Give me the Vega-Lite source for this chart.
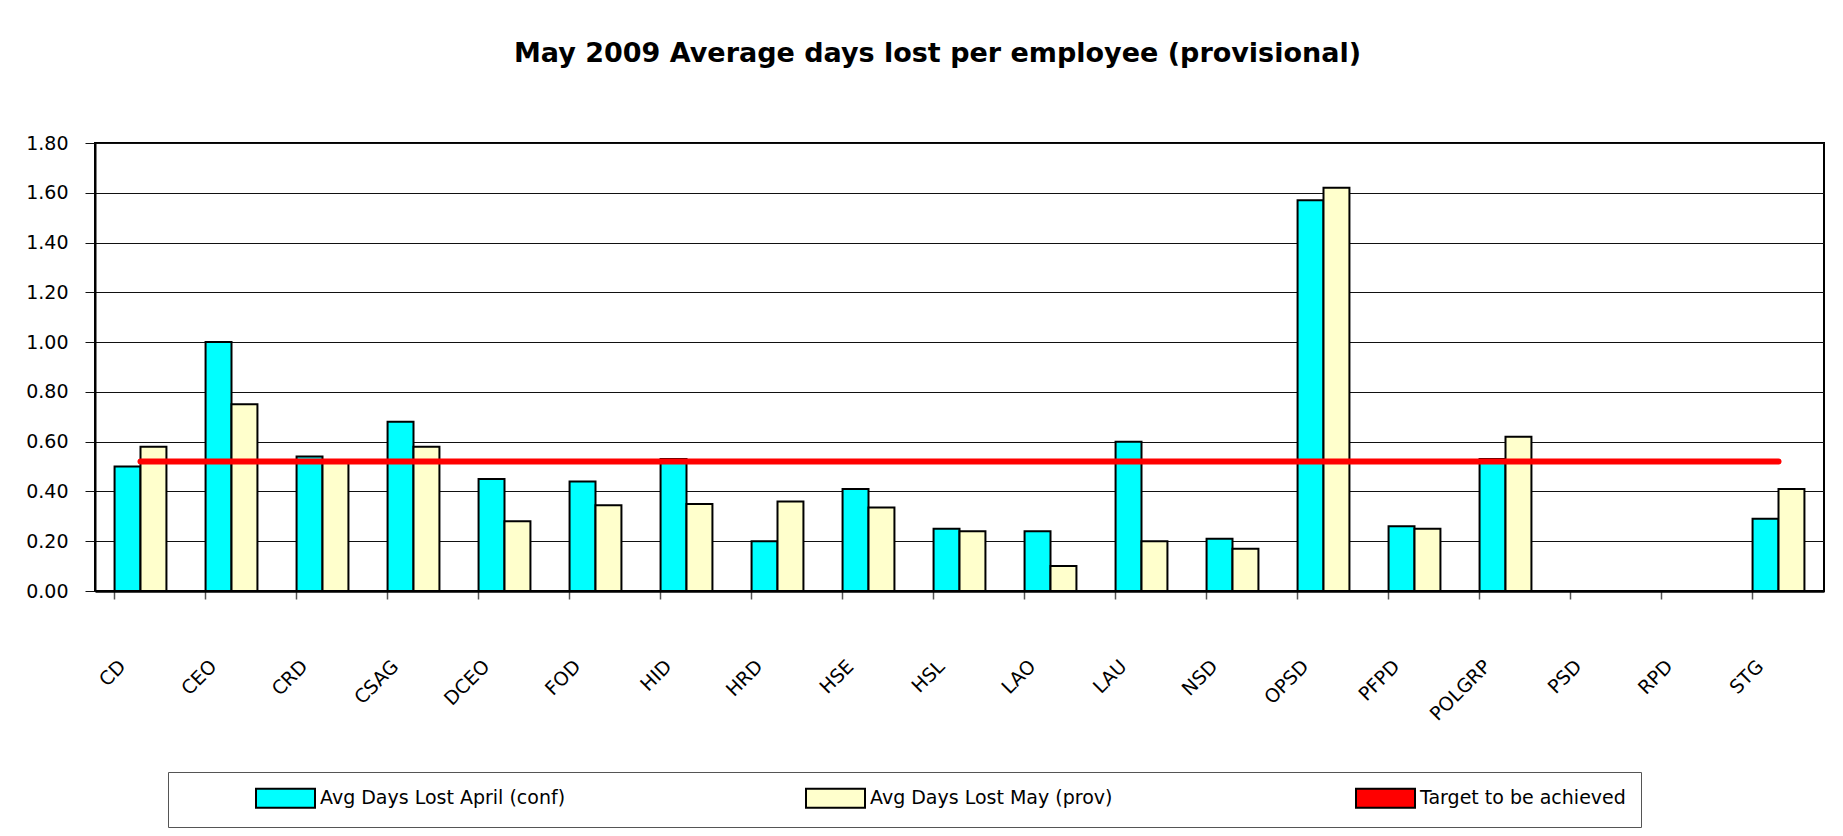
{
  "$schema": "https://vega.github.io/schema/vega-lite/v6.json",
  "width": 1729,
  "height": 448,
  "autosize": {"type": "none"},
  "padding": {"left": 95, "top": 143, "right": 19, "bottom": 245},
  "background": "white",
  "title": {
    "text": "May 2009 Average days lost per employee (provisional)",
    "font": "DejaVu Sans",
    "fontSize": 27,
    "fontWeight": "bold",
    "color": "black",
    "anchor": "middle",
    "frame": "group",
    "offset": 66,
    "dx": -22
  },
  "data": {
    "values": [
      {"dept": "CD", "series": "Avg Days Lost April (conf)", "value": 0.50},
      {"dept": "CD", "series": "Avg Days Lost May (prov)", "value": 0.58},
      {"dept": "CEO", "series": "Avg Days Lost April (conf)", "value": 1.00},
      {"dept": "CEO", "series": "Avg Days Lost May (prov)", "value": 0.75},
      {"dept": "CRD", "series": "Avg Days Lost April (conf)", "value": 0.54},
      {"dept": "CRD", "series": "Avg Days Lost May (prov)", "value": 0.52},
      {"dept": "CSAG", "series": "Avg Days Lost April (conf)", "value": 0.68},
      {"dept": "CSAG", "series": "Avg Days Lost May (prov)", "value": 0.58},
      {"dept": "DCEO", "series": "Avg Days Lost April (conf)", "value": 0.45},
      {"dept": "DCEO", "series": "Avg Days Lost May (prov)", "value": 0.28},
      {"dept": "FOD", "series": "Avg Days Lost April (conf)", "value": 0.44},
      {"dept": "FOD", "series": "Avg Days Lost May (prov)", "value": 0.345},
      {"dept": "HID", "series": "Avg Days Lost April (conf)", "value": 0.53},
      {"dept": "HID", "series": "Avg Days Lost May (prov)", "value": 0.35},
      {"dept": "HRD", "series": "Avg Days Lost April (conf)", "value": 0.20},
      {"dept": "HRD", "series": "Avg Days Lost May (prov)", "value": 0.36},
      {"dept": "HSE", "series": "Avg Days Lost April (conf)", "value": 0.41},
      {"dept": "HSE", "series": "Avg Days Lost May (prov)", "value": 0.335},
      {"dept": "HSL", "series": "Avg Days Lost April (conf)", "value": 0.25},
      {"dept": "HSL", "series": "Avg Days Lost May (prov)", "value": 0.24},
      {"dept": "LAO", "series": "Avg Days Lost April (conf)", "value": 0.24},
      {"dept": "LAO", "series": "Avg Days Lost May (prov)", "value": 0.10},
      {"dept": "LAU", "series": "Avg Days Lost April (conf)", "value": 0.60},
      {"dept": "LAU", "series": "Avg Days Lost May (prov)", "value": 0.20},
      {"dept": "NSD", "series": "Avg Days Lost April (conf)", "value": 0.21},
      {"dept": "NSD", "series": "Avg Days Lost May (prov)", "value": 0.17},
      {"dept": "OPSD", "series": "Avg Days Lost April (conf)", "value": 1.57},
      {"dept": "OPSD", "series": "Avg Days Lost May (prov)", "value": 1.62},
      {"dept": "PFPD", "series": "Avg Days Lost April (conf)", "value": 0.26},
      {"dept": "PFPD", "series": "Avg Days Lost May (prov)", "value": 0.25},
      {"dept": "POLGRP", "series": "Avg Days Lost April (conf)", "value": 0.53},
      {"dept": "POLGRP", "series": "Avg Days Lost May (prov)", "value": 0.62},
      {"dept": "PSD", "series": "Avg Days Lost April (conf)", "value": 0},
      {"dept": "PSD", "series": "Avg Days Lost May (prov)", "value": 0},
      {"dept": "RPD", "series": "Avg Days Lost April (conf)", "value": 0},
      {"dept": "RPD", "series": "Avg Days Lost May (prov)", "value": 0},
      {"dept": "STG", "series": "Avg Days Lost April (conf)", "value": 0.29},
      {"dept": "STG", "series": "Avg Days Lost May (prov)", "value": 0.41},
      {"dept": "CD", "series": "Target to be achieved", "value": 0.52},
      {"dept": "CEO", "series": "Target to be achieved", "value": 0.52},
      {"dept": "CRD", "series": "Target to be achieved", "value": 0.52},
      {"dept": "CSAG", "series": "Target to be achieved", "value": 0.52},
      {"dept": "DCEO", "series": "Target to be achieved", "value": 0.52},
      {"dept": "FOD", "series": "Target to be achieved", "value": 0.52},
      {"dept": "HID", "series": "Target to be achieved", "value": 0.52},
      {"dept": "HRD", "series": "Target to be achieved", "value": 0.52},
      {"dept": "HSE", "series": "Target to be achieved", "value": 0.52},
      {"dept": "HSL", "series": "Target to be achieved", "value": 0.52},
      {"dept": "LAO", "series": "Target to be achieved", "value": 0.52},
      {"dept": "LAU", "series": "Target to be achieved", "value": 0.52},
      {"dept": "NSD", "series": "Target to be achieved", "value": 0.52},
      {"dept": "OPSD", "series": "Target to be achieved", "value": 0.52},
      {"dept": "PFPD", "series": "Target to be achieved", "value": 0.52},
      {"dept": "POLGRP", "series": "Target to be achieved", "value": 0.52},
      {"dept": "PSD", "series": "Target to be achieved", "value": 0.52},
      {"dept": "RPD", "series": "Target to be achieved", "value": 0.52},
      {"dept": "STG", "series": "Target to be achieved", "value": 0.52}
    ]
  },
  "encoding": {
    "x": {
      "field": "dept",
      "type": "nominal",
      "sort": null,
      "scale": {"paddingInner": 0.43, "paddingOuter": 0.215},
      "axis": {
        "title": null,
        "labelAngle": -45,
        "labelAlign": "right",
        "labelBaseline": "middle",
        "labelFont": "DejaVu Sans",
        "labelFontSize": 19,
        "labelColor": "black",
        "labelPadding": 64,
        "labelOffset": -18,
        "bandPosition": 0,
        "tickSize": 8,
        "tickColor": "#555555",
        "tickWidth": 1.5,
        "domainColor": "black",
        "domainWidth": 2.5,
        "labelOverlap": false
      }
    },
    "y": {
      "field": "value",
      "type": "quantitative",
      "scale": {"domain": [0, 1.8], "nice": false},
      "axis": {
        "title": null,
        "values": [0, 0.2, 0.4, 0.6, 0.8, 1.0, 1.2, 1.4, 1.6, 1.8],
        "format": ".2f",
        "grid": true,
        "gridColor": "#111111",
        "gridWidth": 1,
        "domainColor": "black",
        "domainWidth": 2,
        "tickColor": "#111111",
        "tickSize": 10,
        "tickWidth": 1,
        "labelFont": "DejaVu Sans",
        "labelFontSize": 19,
        "labelColor": "black",
        "labelPadding": 17
      }
    }
  },
  "layer": [
    {
      "transform": [{"filter": "datum.series !== 'Target to be achieved'"}],
      "mark": {"type": "bar", "stroke": "black", "strokeWidth": 2},
      "encoding": {
        "xOffset": {"field": "series", "type": "nominal", "scale": {"paddingInner": 0, "paddingOuter": 0}},
        "color": {
          "field": "series",
          "type": "nominal",
          "scale": {
            "domain": ["Avg Days Lost April (conf)", "Avg Days Lost May (prov)", "Target to be achieved"],
            "range": ["#00FFFF", "#FFFFCC", "#FF0000"]
          },
          "legend": {
            "title": null,
            "orient": "none",
            "legendX": 73,
            "legendY": 629,
            "direction": "horizontal",
            "columns": 3,
            "gridAlign": "all",
            "columnPadding": 167,
            "padding": 15,
            "strokeColor": "#555555",
            "fillColor": "white",
            "labelFont": "DejaVu Sans",
            "labelFontSize": 19,
            "labelColor": "black",
            "labelOffset": 115,
            "labelLimit": 500,
            "symbolSize": 400,
            "symbolType": "M6.2,-0.95H12.1V0.95H6.2Z",
            "symbolStrokeWidth": 2,
            "encode": {
              "symbols": {
                "update": {
                  "shape": {"signal": "datum.value === 'Target to be achieved' ? 'M6.5,0H11.8' : 'M6.2,-0.95H12.1V0.95H6.2Z'"},
                  "size": {"value": 400},
                  "stroke": {"signal": "datum.value === 'Target to be achieved' ? '#FF0000' : '#000000'"},
                  "strokeWidth": {"signal": "datum.value === 'Target to be achieved' ? 6 : 2"},
                  "strokeCap": {"value": "round"},
                  "opacity": {"value": 1},
                  "strokeOpacity": {"value": 1}
                }
              }
            }
          }
        }
      }
    },
    {
      "transform": [{"filter": "datum.series === 'Target to be achieved'"}],
      "mark": {"type": "line", "color": "#FF0000", "strokeWidth": 6, "strokeCap": "round"},
      "encoding": {}
    }
  ],
  "config": {
    "view": {"stroke": "black", "strokeWidth": 2}
  }
}
